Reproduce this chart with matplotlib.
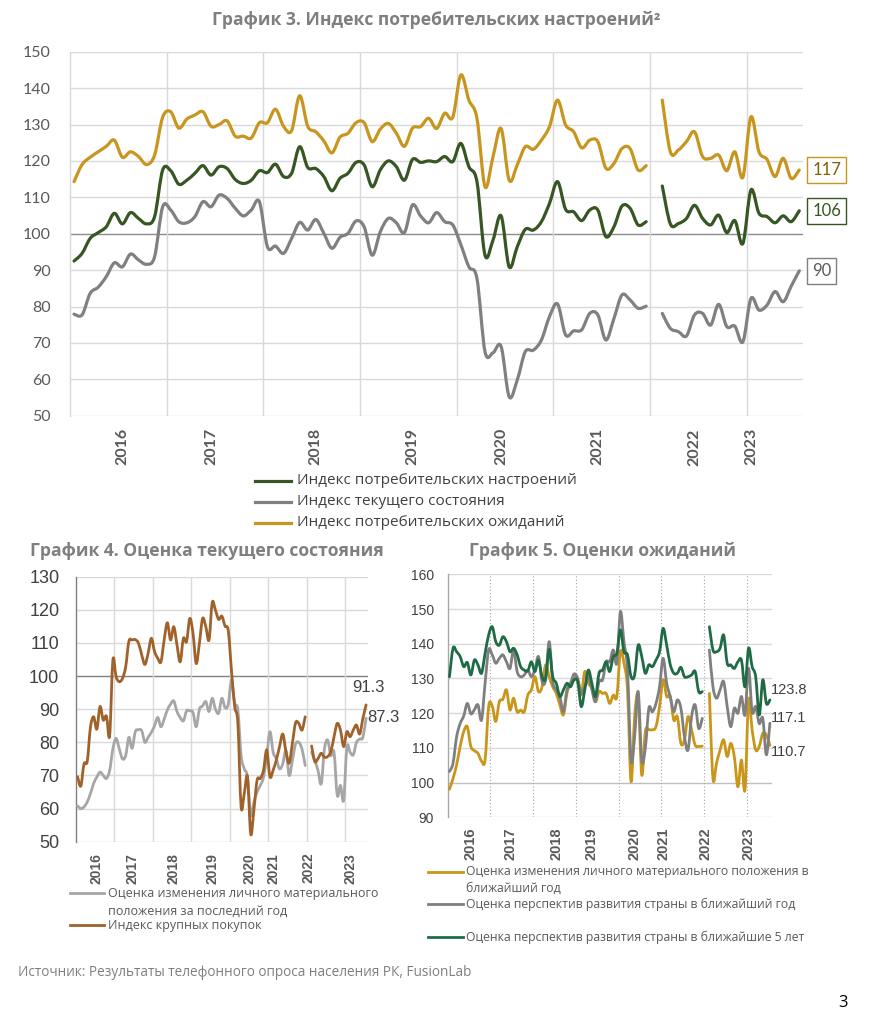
import numpy as np
import matplotlib
matplotlib.use('Agg')
import matplotlib.pyplot as plt
from matplotlib.lines import Line2D
from matplotlib.path import Path
from matplotlib.patches import PathPatch

plt.rcParams['font.family'] = ['Open Sans', 'DejaVu Sans']

nan = np.nan

# ---------- График 3 ----------
years = ['2016', '2017', '2018', '2019', '2020', '2021', '2022', '2023']
g3_year_pos = [6, 17, 30, 42, 53, 65, 77, 84]

g3_sentiment = [92.5, 94.6, 98.7, 100.3, 101.9, 105.6, 102.7, 105.8, 104.2, 102.7, 104.7, 117.5,
                117.3, 113.6, 114.7, 116.6, 118.7, 116.1, 118.4, 117.9, 114.9, 113.8, 114.7, 117.3,
                116.8, 119.1, 115.7, 116.6, 123.9, 118.2, 117.9, 115.7, 111.8, 115.2, 116.6, 119.6,
                118.9, 112.9, 117.5, 120.0, 118.4, 114.7, 120.4, 119.6, 120.0, 119.8, 121.2, 119.8,
                124.8, 118.4, 114.3, 94.1, 98.3, 104.9, 90.9, 96.4, 101.2, 101.0, 103.3, 108.3,
                114.3, 106.7, 106.0, 103.6, 106.5, 106.5, 99.2, 101.9, 107.6, 107.0, 102.4, 103.3,
                nan, 113.1, 102.7, 102.8, 104.2, 107.8, 104.2, 102.4, 105.1, 100.3, 103.6, 97.3,
                112.0, 105.6, 104.7, 103.0, 104.9, 103.3, 106.3]
g3_current = [77.9, 77.7, 83.6, 85.3, 88.2, 92.0, 90.9, 94.4, 92.8, 91.6, 93.7, 107.4,
              106.5, 103.3, 103.0, 104.7, 108.8, 107.4, 110.6, 109.7, 107.0, 104.9, 106.5, 108.8,
              96.4, 96.6, 94.6, 98.7, 103.1, 101.0, 103.9, 100.1, 96.0, 99.0, 100.1, 103.5,
              101.9, 94.1, 100.5, 104.2, 103.0, 100.3, 107.9, 104.9, 103.0, 105.8, 103.3, 102.4,
              97.0, 90.9, 87.7, 67.6, 67.3, 69.0, 55.2, 59.8, 67.6, 68.0, 70.8, 77.2,
              80.7, 72.2, 73.3, 73.6, 78.1, 77.7, 70.8, 76.7, 83.2, 81.8, 79.5, 80.1,
              nan, 78.1, 74.0, 73.1, 71.9, 77.7, 78.1, 74.9, 80.6, 74.5, 74.6, 70.3,
              82.2, 79.0, 80.4, 84.1, 81.3, 85.6, 89.8]
g3_expect = [114.3, 119.0, 121.0, 122.5, 124.0, 125.7, 121.0, 122.5, 121.2, 119.0, 121.6, 132.0,
             133.5, 129.0, 131.5, 132.6, 133.5, 129.5, 130.0, 131.0, 126.8, 126.8, 126.3, 130.5,
             130.5, 134.2, 129.5, 128.3, 137.9, 129.5, 128.0, 125.5, 122.2, 126.5, 127.6, 130.5,
             130.5, 125.3, 128.7, 130.3, 127.6, 124.0, 129.0, 129.4, 131.7, 128.9, 133.1, 132.0,
             143.6, 136.7, 131.7, 112.9, 121.2, 128.9, 114.7, 118.9, 123.9, 123.2, 125.7, 129.4,
             136.7, 129.9, 128.0, 123.6, 125.7, 125.3, 118.0, 119.3, 123.4, 123.4, 117.5, 118.7,
             nan, 136.7, 122.5, 123.0, 125.3, 128.0, 121.2, 120.7, 121.6, 117.3, 122.5, 115.5,
             132.1, 122.5, 120.4, 115.7, 120.7, 115.2, 117.5]
g3_names = ['Индекс потребительских настроений', 'Индекс текущего состояния',
            'Индекс потребительских ожиданий']
g3_end_labels = ['106', '90', '117']

# ---------- График 4 ----------
g4_year_pos = [6, 17, 30, 42, 53.5, 61, 72, 85]
g4_personal = [60.8, 60.0, 60.5, 62.0, 64.5, 67.6, 69.5, 71.0, 70.0, 69.1, 71.5, 78.0,
               81.2, 78.0, 75.0, 76.0, 81.5, 78.2, 83.2, 83.8, 83.5, 80.0, 81.5, 83.0,
               85.0, 87.5, 84.7, 87.0, 89.8, 91.5, 92.5, 89.3, 87.5, 86.5, 89.5, 89.5,
               89.0, 84.7, 90.0, 91.0, 92.3, 89.3, 93.3, 90.0, 88.8, 93.3, 90.5, 91.5,
               98.8, 91.8, 89.8, 76.0, 72.0, 69.5, 58.0, 62.0, 65.0, 67.0, 69.5, 76.0,
               83.2, 77.0, 75.0, 72.0, 73.5, 77.5, 70.0, 74.5, 79.5, 80.0, 78.0, 73.0,
               nan, 77.0, 74.5, 71.5, 67.5, 78.0, 80.7, 76.0, 77.0, 64.0, 67.0, 62.5,
               78.5, 77.0, 76.2, 80.0, 81.0, 81.5, 87.3]
g4_purchases = [69.6, 66.8, 73.5, 74.2, 84.5, 87.7, 84.0, 90.8, 86.7, 87.9, 82.0, 104.8,
                99.8, 98.3, 99.3, 102.8, 110.5, 110.9, 111.0, 109.9, 106.4, 103.5, 106.9, 111.4,
                107.4, 105.4, 104.3, 110.9, 116.1, 110.9, 114.9, 109.4, 104.3, 111.4, 110.4, 117.4,
                112.9, 103.8, 109.9, 117.4, 114.9, 110.9, 122.2, 119.9, 117.1, 118.1, 115.1, 113.7,
                101.8, 90.8, 85.7, 60.6, 64.6, 69.6, 52.3, 59.6, 68.6, 69.1, 71.6, 77.7,
                69.6, 71.6, 74.7, 78.7, 82.5, 77.2, 73.7, 79.7, 85.9, 85.7, 83.7, 87.7,
                nan, 78.9, 74.2, 75.1, 76.7, 75.5, 75.7, 77.2, 81.7, 85.7, 83.7, 78.7,
                83.2, 81.7, 83.7, 85.2, 82.5, 87.2, 91.3]

# ---------- График 5 ----------
g5_year_pos = [6, 17, 30, 40, 52, 60, 72, 84]
g5_personal = [98.1, 101.2, 105.1, 110.4, 114.7, 116.1, 110.4, 109.2, 108.4, 106.2, 106.5, 121.9,
               122.1, 117.6, 123.3, 124.0, 126.7, 120.9, 124.3, 120.4, 120.9, 120.4, 125.2, 126.7,
               130.5, 126.2, 127.6, 133.9, 130.5, 127.6, 125.7, 122.4, 119.5, 125.7, 128.6, 130.5,
               129.6, 125.2, 132.0, 128.6, 127.2, 123.3, 126.2, 125.7, 125.7, 122.8, 125.2, 124.8,
               137.7, 134.4, 126.7, 100.3, 119.0, 124.8, 102.2, 114.7, 115.2, 115.2, 116.1, 121.9,
               129.6, 124.8, 124.8, 118.0, 119.0, 111.3, 112.3, 119.0, 115.2, 110.8, 110.4, 110.5,
               nan, 125.7, 101.2, 105.6, 109.4, 112.3, 107.5, 111.3, 107.5, 98.8, 106.5, 97.9,
               123.8, 115.2, 109.4, 110.4, 114.2, 113.7, 110.7]
g5_country1 = [103.2, 105.6, 113.2, 117.0, 119.2, 122.8, 119.8, 121.0, 122.4, 118.0, 128.6, 138.2,
               136.8, 134.4, 135.8, 136.8, 134.8, 132.9, 138.2, 132.0, 130.5, 131.0, 132.4, 130.5,
               132.6, 136.3, 129.1, 129.6, 140.6, 129.1, 126.7, 124.8, 120.4, 126.7, 128.6, 131.3,
               130.0, 125.7, 127.6, 130.5, 126.7, 123.3, 129.1, 129.6, 134.8, 134.8, 138.2, 134.4,
               149.2, 140.6, 132.4, 106.5, 113.2, 126.2, 106.5, 109.9, 121.4, 120.4, 122.8, 127.6,
               135.8, 128.6, 124.8, 120.4, 123.8, 121.4, 113.2, 109.4, 119.0, 122.4, 115.6, 118.5,
               nan, 138.2, 127.6, 124.3, 126.7, 129.1, 121.9, 116.1, 121.4, 120.0, 124.8, 119.5,
               132.9, 120.4, 121.9, 117.0, 118.5, 108.0, 117.1]
g5_country5 = [130.5, 138.7, 137.7, 136.3, 133.4, 134.6, 131.0, 135.3, 133.9, 131.5, 137.2, 142.5,
               144.9, 140.6, 139.6, 142.0, 140.6, 137.7, 138.7, 136.8, 133.4, 132.4, 132.2, 134.8,
               132.0, 135.3, 130.5, 130.0, 138.4, 130.5, 128.6, 124.8, 126.7, 128.6, 127.6, 129.6,
               129.1, 121.9, 126.7, 132.4, 128.6, 124.8, 131.5, 132.4, 134.8, 132.0, 136.3, 137.2,
               144.0, 137.7, 136.8, 130.5, 131.0, 139.6, 136.3, 131.5, 133.9, 133.4, 135.3, 137.7,
               144.4, 139.6, 134.0, 131.5, 131.5, 133.2, 130.5, 130.5, 131.0, 132.0, 126.2, 126.2,
               nan, 144.9, 138.2, 137.7, 138.7, 142.5, 134.4, 133.9, 132.9, 134.8, 135.3, 127.6,
               138.7, 133.4, 130.5, 119.5, 129.6, 122.8, 123.8]

W, H = 880, 1026
fig = plt.figure(figsize=(W / 100, H / 100), dpi=100)


def box(l, t, r, b):
    return [l / W, 1 - b / H, (r - l) / W, (b - t) / H]


def fx(x):
    return x / W


def fy(y):
    return 1 - y / H


def smooth_line(ax, xs, ys, color, lw, z=3):
    # Excel-style smoothed line: bezier curve through the data points, split at gaps
    ys = np.asarray(ys, dtype=float)
    ok = ~np.isnan(ys)
    idx = np.where(ok)[0]
    runs = np.split(idx, np.where(np.diff(idx) > 1)[0] + 1)
    for r in runs:
        p = np.column_stack([np.asarray(xs)[r], ys[r]])
        pe = np.vstack([p[0], p, p[-1]])
        verts = [p[0]]
        codes = [Path.MOVETO]
        for i in range(len(p) - 1):
            c1 = pe[i + 1] + (pe[i + 2] - pe[i]) / 6
            c2 = pe[i + 2] - (pe[i + 3] - pe[i + 1]) / 6
            verts += [c1, c2, p[i + 1]]
            codes += [Path.CURVE4] * 3
        ax.add_patch(PathPatch(Path(verts, codes), fill=False, ec=color, lw=lw,
                               capstyle='round', joinstyle='round', zorder=z))


def base_axes(rect, ymin, ymax, step, year_pos, vgrid, left_col, line100,
              ysize, yfont, ypad, xsize, xpad, ycol):
    ax = fig.add_axes(rect)
    n = len(g3_sentiment)
    ax.set_xlim(-0.5, n - 0.5)
    ax.set_ylim(ymin, ymax)
    ticks = np.arange(ymin, ymax + 1, step)
    for v in ticks:
        col = line100 if v == 100 else '#d9d9d9'
        ax.axhline(v, color=col, lw=1.0, zorder=1)
    for k in range(1, 8):
        ax.axvline(-0.5 + 12 * k, color=vgrid[0], lw=vgrid[1], ls=vgrid[2], zorder=1)
    for s in ['top', 'right', 'bottom']:
        ax.spines[s].set_visible(False)
    ax.spines['left'].set_color(left_col)
    ax.spines['left'].set_linewidth(1.0)
    ax.set_yticks(ticks)
    ax.set_yticklabels([str(int(t)) for t in ticks], fontsize=ysize, family=yfont, color=ycol)
    ax.tick_params(axis='y', length=0, pad=ypad)
    ax.set_xticks(year_pos)
    ax.set_xticklabels(years, rotation=90, fontsize=xsize, fontweight='bold',
                       color='#595959', family=yfont)
    ax.tick_params(axis='x', length=0, pad=xpad)
    return ax


x = np.arange(len(g3_sentiment))

# ---------- График 3 ----------
fig.text(fx(436), fy(20), 'График 3. Индекс потребительских настроений²', ha='center', va='center',
         fontsize=12.6, fontweight='bold', color='#7f7f7f')
ax3 = base_axes(box(70, 51.7, 803.3, 415.7), 50, 150, 10, g3_year_pos,
                ('#d9d9d9', 1.0, '-'), '#d9d9d9', '#8c8c8c', 11.5, ['Lato', 'DejaVu Sans'], 14,
                11.5, 9, '#595959')
c3 = ['#375623', '#808080', '#c8961e']
series3 = [g3_sentiment, g3_current, g3_expect]
for s, c in zip(series3, c3):
    smooth_line(ax3, x, s, c, 2.3)
txt3 = ['#375623', '#595959', '#7f6000']
for s, c, tc, lab in zip(series3, c3, txt3, g3_end_labels):
    ax3.text(91.6, s[-1], lab, ha='left', va='center', fontsize=12, family=['Lato', 'DejaVu Sans'],
             color=tc, clip_on=False,
             bbox=dict(boxstyle='square,pad=0.3', fc='white', ec=c, lw=1.0))
for i, (nm, c) in enumerate(zip(g3_names, c3)):
    yy = 481 + 21 * i
    fig.add_artist(Line2D([fx(255), fx(291)], [fy(yy), fy(yy)], color=c, lw=2.3))
    fig.text(fx(297), fy(yy), nm, ha='left', va='center', fontsize=11, color='#404040')

# ---------- График 4 ----------
fig.text(fx(207), fy(551), 'График 4. Оценка текущего состояния', ha='center', va='center',
         fontsize=12.6, fontweight='bold', color='#7f7f7f')
ax4 = base_axes(box(76, 576.7, 367.7, 841.7), 50, 130, 10, g4_year_pos,
                ('#d9d9d9', 1.0, '-'), '#808080', '#808080', 13, ['Liberation Sans', 'DejaVu Sans'],
                12, 10, 8, '#404040')
c4 = ['#a6a6a6', '#a0622b']
smooth_line(ax4, x, g4_personal, c4[0], 2.0, 3)
smooth_line(ax4, x, g4_purchases, c4[1], 2.0, 4)
ax4.text(90.6, 96.6, '91.3', ha='center', va='center', fontsize=12,
         family=['Liberation Sans', 'DejaVu Sans'], color='#404040', clip_on=False)
ax4.text(90.3, 87.4, '87.3', ha='left', va='center', fontsize=12,
         family=['Liberation Sans', 'DejaVu Sans'], color='#404040', clip_on=False)
fig.add_artist(Line2D([fx(70), fx(104)], [fy(893), fy(893)], color=c4[0], lw=2.0))
fig.text(fx(108), fy(893), 'Оценка изменения личного материального', ha='left', va='center',
         fontsize=9, color='#595959')
fig.text(fx(108), fy(911), 'положения за последний год', ha='left', va='center',
         fontsize=9, color='#595959')
fig.add_artist(Line2D([fx(70), fx(104)], [fy(925), fy(925)], color=c4[1], lw=2.0))
fig.text(fx(108), fy(925), 'Индекс крупных покупок', ha='left', va='center',
         fontsize=9, color='#595959')

# ---------- График 5 ----------
fig.text(fx(602), fy(551), 'График 5. Оценки ожиданий', ha='center', va='center',
         fontsize=12.6, fontweight='bold', color='#7f7f7f')
ax5 = base_axes(box(447.7, 574.3, 771.7, 817.3), 90, 160, 10, g5_year_pos,
                ('#a6a6a6', 0.8, (0, (1, 2))), '#a6a6a6', '#bfbfbf', 10,
                ['Liberation Sans', 'DejaVu Sans'], 10, 10.5, 7, '#404040')
c5 = ['#c9961a', '#7f7f7f', '#1e6b45']
series5 = [g5_personal, g5_country1, g5_country5]
for s, c in zip(series5, c5):
    smooth_line(ax5, x, s, c, 2.0)
for s, yv in zip([g5_country5, g5_country1, g5_personal], [126.7, 118.5, 108.9]):
    ax5.text(90.2, yv, f'{s[-1]:.1f}', ha='left', va='center', fontsize=10.5,
             family=['Liberation Sans', 'DejaVu Sans'], color='#404040', clip_on=False)
leg5 = [(872, ['Оценка изменения личного материального положения в', 'ближайший год']),
        (904, ['Оценка перспектив развития страны в ближайший год']),
        (937, ['Оценка перспектив развития страны в ближайшие 5 лет'])]
for (yy, lines), c in zip(leg5, c5):
    fig.add_artist(Line2D([fx(428), fx(463)], [fy(yy), fy(yy)], color=c, lw=2.0))
    for j, t in enumerate(lines):
        fig.text(fx(466), fy(yy + 16 * j), t, ha='left', va='center', fontsize=8.8, color='#595959')

fig.text(fx(18), fy(972), 'Источник: Результаты телефонного опроса населения РК, FusionLab',
         ha='left', va='center', fontsize=9.8, color='#7f7f7f')
fig.text(fx(843), fy(1003), '3', ha='center', va='center', fontsize=12, color='black')

fig.savefig('out.png', dpi=100)
